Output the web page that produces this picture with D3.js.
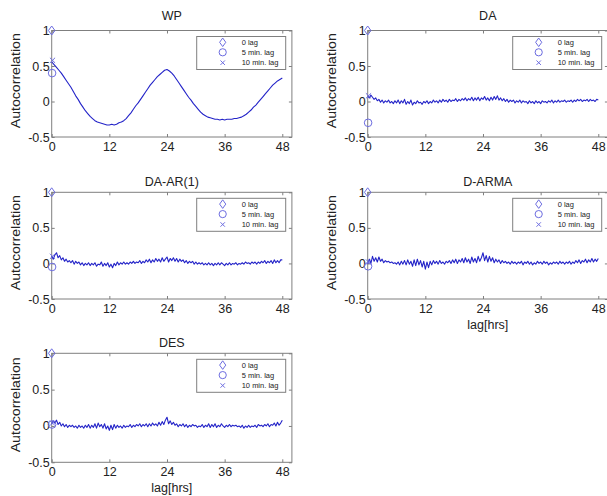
<!DOCTYPE html>
<html>
<head>
<meta charset="utf-8">
<script src="https://cdn.jsdelivr.net/npm/d3@7"></script>
<style>
  html, body { margin: 0; padding: 0; background: #fff; }
  svg { display: block; }
  text { font-family: "Liberation Sans", Arial, Helvetica, sans-serif; fill: #222; }
</style>
</head>
<body>
<script>
// Autocorrelation of wind power (WP) and of residual series for four models.

const xTicks = [0, 12, 24, 36, 48];
const yTicks = [-0.5, 0, 0.5, 1];
const legendLabels = ["0 lag", "5 min. lag", "10 min. lag"];
const panelTitles = ["WP", "DA", "DA-AR(1)", "D-ARMA", "DES"];

// Autocorrelation at 0, 5 and 10 minutes lag, per panel
const lag0 = [1, 1, 1, 1, 1];
const lag5min = [0.40, -0.30, -0.05, -0.04, 0.02];
const lag10min = [0.58, 0.08, 0.10, 0.02, 0.04];

// WP autocorrelation, lags 0..48 h every 0.5 h
const wp = [
  0.56, 0.52, 0.48, 0.44, 0.40, 0.35, 0.30, 0.25, 0.20, 0.14,
  0.08, 0.03, -0.03, -0.08, -0.13, -0.17, -0.21, -0.24, -0.27, -0.29,
  -0.30, -0.31, -0.32, -0.33, -0.33, -0.32, -0.33, -0.32, -0.30, -0.29,
  -0.27, -0.24, -0.20, -0.16, -0.11, -0.06, -0.02, 0.03, 0.08, 0.13,
  0.18, 0.23, 0.27, 0.31, 0.35, 0.38, 0.41, 0.44, 0.45, 0.43,
  0.40, 0.36, 0.31, 0.26, 0.21, 0.16, 0.11, 0.06, 0.02, -0.03,
  -0.07, -0.11, -0.15, -0.18, -0.20, -0.22, -0.23, -0.24, -0.25, -0.25,
  -0.26, -0.25, -0.26, -0.25, -0.25, -0.25, -0.24, -0.24, -0.23, -0.22,
  -0.20, -0.18, -0.15, -0.12, -0.08, -0.05, -0.01, 0.03, 0.07, 0.11,
  0.15, 0.19, 0.23, 0.26, 0.29, 0.31, 0.33
];

// Residual autocorrelations, lags 0..48 h every 20 min
const da = [
  0.08,0.05,0.09, 0.06,0.03,0.05, 0.01,0.03,-0.01, 0.02,-0.02,0.01,
  -0.01,0.02,-0.02, 0.00,-0.03,0.01, -0.02,0.02,-0.03, 0.01,-0.02,0.03,
  -0.04,0.00,-0.03, 0.02,-0.05,-0.01, -0.03,0.01,-0.02, -0.01,-0.04,0.00,
  -0.02,0.01,-0.03, 0.00,-0.02,0.02, -0.01,0.01,-0.02, 0.02,-0.01,0.03,
  0.00,0.02,-0.01, 0.03,0.00,0.02, 0.01,0.04,0.00, 0.03,0.01,0.04,
  0.02,0.05,0.01, 0.04,0.02,0.06, 0.01,0.05,0.02, 0.06,0.01,0.05,
  0.03,0.07,0.02, 0.05,0.01,0.06, 0.02,0.07,0.03, 0.08,0.02,0.05,
  0.01,0.04,0.00, 0.03,-0.01,0.02, 0.00,0.02,-0.02, 0.01,-0.01,0.02,
  -0.02,0.01,-0.01, 0.00,-0.03,0.01, -0.02,0.00,-0.03, 0.01,-0.02,0.00,
  -0.03,0.01,-0.01, 0.00,-0.02,0.01, -0.01,0.02,-0.02, 0.01,-0.01,0.02,
  -0.01,0.01,0.00, 0.02,-0.01,0.01, 0.00,0.02,-0.01, 0.02,0.00,0.03,
  0.01,0.03,0.00, 0.02,0.01,0.03, 0.00,0.03,0.01, 0.02,0.00,0.03,
  0.02
];

const daAr1 = [
  0.10,0.06,0.12, 0.15,0.08,0.11, 0.05,0.08,0.03, 0.06,0.02,0.04,
  0.01,0.04,-0.01, 0.03,0.00,0.02, -0.02,0.01,-0.03, 0.00,-0.02,0.01,
  -0.03,0.00,-0.02, 0.01,-0.04,-0.01, -0.02,0.02,-0.04, 0.00,-0.03,0.01,
  -0.05,-0.01,-0.06, 0.00,-0.03,0.02, -0.02,0.01,-0.01, 0.02,-0.01,0.01,
  -0.01,0.02,0.00, 0.03,0.00,0.02, 0.01,0.04,0.00, 0.03,0.01,0.05,
  0.02,0.06,0.01, 0.05,0.02,0.07, 0.03,0.06,0.02, 0.08,0.03,0.06,
  0.09,0.02,0.07, 0.04,0.08,0.03, 0.07,0.02,0.06, 0.03,0.05,0.01,
  0.04,0.00,0.03, 0.01,0.03,-0.01, 0.02,-0.01,0.01, -0.01,0.01,-0.02,
  0.00,-0.02,0.01, -0.02,0.00,-0.03, 0.00,-0.02,0.01, -0.02,0.01,-0.01,
  -0.03,0.00,-0.02, 0.01,-0.02,0.00, -0.01,0.01,-0.02, 0.00,-0.01,0.01,
  -0.01,0.02,0.00, 0.01,-0.01,0.02, 0.00,0.02,-0.01, 0.02,0.00,0.03,
  0.01,0.04,0.00, 0.03,0.01,0.04, 0.00,0.05,0.01, 0.04,0.01,0.05,
  0.05
];

const dArma = [
  -0.01,0.06,0.00, 0.10,0.03,0.08, 0.02,0.09,0.03, 0.06,0.01,0.04,
  0.02,0.03,0.01, 0.02,0.00,0.01, -0.01,0.02,-0.02, 0.03,-0.01,0.04,
  -0.02,0.05,-0.01, 0.03,-0.04,0.05, -0.03,0.06,-0.02, 0.04,-0.05,0.03,
  -0.08,0.02,-0.06, 0.03,-0.02,0.04, 0.00,0.03,-0.01, 0.04,0.00,0.02,
  -0.01,0.03,0.01, 0.04,0.00,0.05, 0.01,0.06,0.00, 0.05,0.02,0.07,
  0.01,0.08,0.02, 0.06,0.00,0.09, 0.02,0.07,0.01, 0.10,0.03,0.08,
  0.15,0.04,0.11, 0.02,0.10,0.03, 0.08,0.01,0.06, 0.02,0.05,0.00,
  0.04,0.01,0.03, 0.00,0.02,-0.01, 0.03,0.00,0.02, -0.01,0.02,0.00,
  0.03,-0.02,0.02, 0.00,0.03,-0.01, 0.02,-0.02,0.01, -0.01,0.03,0.00,
  0.02,-0.01,0.03, 0.00,0.02,-0.02, 0.01,-0.01,0.02, 0.00,0.02,-0.01,
  0.03,0.00,0.02, -0.01,0.02,0.00, 0.03,-0.01,0.02, 0.00,0.04,0.01,
  0.05,0.00,0.04, 0.02,0.06,0.01, 0.05,0.02,0.07, 0.02,0.06,0.03,
  0.07
];

const des = [
  0.03,0.07,0.04, 0.08,0.02,0.05, 0.00,0.03,-0.01, 0.02,-0.02,0.01,
  -0.01,0.01,-0.02, 0.00,-0.03,0.01, -0.02,0.00,-0.03, 0.01,-0.02,0.02,
  -0.03,0.01,-0.02, 0.03,-0.03,0.04, -0.01,0.02,-0.03, 0.03,-0.04,0.00,
  -0.06,0.01,-0.05, 0.02,-0.03,0.01, -0.02,0.00,-0.03, 0.01,-0.02,0.00,
  -0.01,0.02,-0.02, 0.01,-0.01,0.02, 0.00,0.03,-0.01, 0.02,0.00,0.03,
  -0.01,0.03,0.00, 0.04,0.01,0.03, 0.00,0.05,0.01, 0.06,0.02,0.08,
  0.12,0.03,0.07, 0.02,0.05,0.01, 0.03,-0.01,0.02, 0.00,0.03,-0.01,
  0.02,-0.02,0.01, -0.01,0.02,0.00, 0.01,-0.02,0.00, -0.01,0.02,-0.02,
  0.01,-0.01,0.03, -0.02,0.02,-0.01, 0.03,-0.02,0.01, -0.01,0.03,0.00,
  -0.02,0.01,-0.01, 0.02,-0.01,0.01, 0.00,0.01,-0.01, 0.00,-0.02,0.01,
  -0.03,0.00,-0.02, 0.01,-0.02,0.00, -0.01,0.01,-0.02, 0.02,0.00,0.01,
  -0.01,0.02,0.00, 0.03,-0.01,0.02, 0.01,0.04,0.00, 0.05,0.01,0.04,
  0.08
];

const seriesList = [wp, da, daAr1, dArma, des];

// ---------- layout ----------
const W = 607, H = 496;
const colLeft = [51.7, 367.7];
const plotW = 240.2;
const rowTop = [30.5, 192.3, 353.3];
const rowBottom = [137, 299, 462.3];
const titleY = [16, 181.5, 343];
const lineColor = "#2323c8";
const markColor = "#6c6ce0";
const boxColor = "#7f7f7f";

const svg = d3.select("body").append("svg")
  .attr("width", W).attr("height", H);

// marker glyphs: diamond, circle and x, scaled by s
function markerPath(kind, s) {
  const p = d3.path();
  if (kind === "x") {
    p.moveTo(-s, -s); p.lineTo(s, s);
    p.moveTo(-s, s); p.lineTo(s, -s);
  } else if (kind === "diamond") {
    p.moveTo(0, -s * 1.25); p.lineTo(s * 0.9, 0);
    p.lineTo(0, s * 1.25); p.lineTo(-s * 0.9, 0); p.closePath();
  } else {
    p.arc(0, 0, s, 0, 2 * Math.PI);
  }
  return p.toString();
}
const markerKinds = ["diamond", "circle", "x"];
const markerScale = [3.6, 3.8, 2.6];

panelTitles.forEach((title, k) => {
  const col = k % 2, row = Math.floor(k / 2);
  const left = colLeft[col], top = rowTop[row], bottom = rowBottom[row];
  const x = d3.scaleLinear().domain([0, 50]).range([left, left + plotW]);
  const y = d3.scaleLinear().domain([-0.5, 1]).range([bottom, top]);
  const g = svg.append("g");

  g.append("rect")
    .attr("x", x(0)).attr("y", y(1))
    .attr("width", x(50) - x(0)).attr("height", y(-0.5) - y(1))
    .attr("fill", "#fff").attr("stroke", boxColor).attr("stroke-width", 1);

  const fmt = d => String(d);
  const styleAxis = sel => {
    sel.select(".domain").remove();
    sel.selectAll(".tick line").attr("stroke", boxColor);
    sel.selectAll("text").attr("font-size", "12.5px")
      .attr("font-family", "'Liberation Sans', Arial, sans-serif").attr("fill", "#222");
  };
  g.append("g").attr("transform", `translate(0,${bottom})`)
    .call(d3.axisBottom(x).tickValues(xTicks).tickSize(-3).tickPadding(5).tickFormat(fmt))
    .call(styleAxis);
  g.append("g").attr("transform", `translate(0,${top})`)
    .call(d3.axisTop(x).tickValues(xTicks).tickSize(-3).tickFormat(""))
    .call(styleAxis);
  g.append("g").attr("transform", `translate(${left},0)`)
    .call(d3.axisLeft(y).tickValues(yTicks).tickSize(-3).tickPadding(2).tickFormat(fmt))
    .call(styleAxis);
  g.append("g").attr("transform", `translate(${left + plotW},0)`)
    .call(d3.axisRight(y).tickValues(yTicks).tickSize(-3).tickFormat(""))
    .call(styleAxis);

  // autocorrelation curve
  const vals = seriesList[k];
  const step = 48 / (vals.length - 1);
  g.append("path")
    .datum(vals)
    .attr("fill", "none")
    .attr("stroke", lineColor)
    .attr("stroke-width", 1.1)
    .attr("stroke-linejoin", "round")
    .attr("d", d3.line().x((d, i) => x(i * step)).y(d => y(d)));

  // short-lag markers
  const shortLags = [
    { lag: 0, v: lag0[k] },
    { lag: 5 / 60, v: lag5min[k] },
    { lag: 10 / 60, v: lag10min[k] }
  ];
  shortLags.forEach((m, j) => {
    g.append("path")
      .attr("d", markerPath(markerKinds[j], markerScale[j]))
      .attr("transform", `translate(${x(m.lag)},${y(m.v)})`)
      .attr("fill", "none").attr("stroke", markColor).attr("stroke-width", 1);
  });

  // title
  g.append("text")
    .attr("x", x(25)).attr("y", titleY[row])
    .attr("text-anchor", "middle").attr("dominant-baseline", "central")
    .attr("font-size", "12.5px")
    .text(title);

  // y label
  const yc = (top + bottom) / 2 - 3;
  g.append("text")
    .attr("transform", `translate(${left - 36.5},${yc}) rotate(-90)`)
    .attr("text-anchor", "middle").attr("dominant-baseline", "central")
    .attr("font-size", "13px")
    .attr("textLength", 95).attr("lengthAdjust", "spacingAndGlyphs")
    .text("Autocorrelation");

  // x label on the panels at the bottom of each column
  if (k >= 3) {
    g.append("text")
      .attr("x", x(25)).attr("y", bottom + 26)
      .attr("text-anchor", "middle").attr("dominant-baseline", "central")
      .attr("font-size", "12.5px")
      .text("lag[hrs]");
  }

  // legend
  const lx = left + 145, ly = top + 6;
  const lg = g.append("g").attr("transform", `translate(${lx},${ly})`);
  lg.append("rect").attr("width", 89).attr("height", 33)
    .attr("fill", "#fff").attr("stroke", boxColor).attr("stroke-width", 1);
  const rowsY = [5.8, 15.8, 26.2];
  legendLabels.forEach((lab, j) => {
    lg.append("path")
      .attr("d", markerPath(markerKinds[j], markerScale[j] * (j === 2 ? 0.85 : 0.95)))
      .attr("transform", `translate(26,${rowsY[j]})`)
      .attr("fill", "none").attr("stroke", markColor).attr("stroke-width", 1);
    lg.append("text")
      .attr("x", 45).attr("y", rowsY[j])
      .attr("dominant-baseline", "central")
      .attr("font-size", "7.5px")
      .text(lab);
  });
});
</script>
</body>
</html>
